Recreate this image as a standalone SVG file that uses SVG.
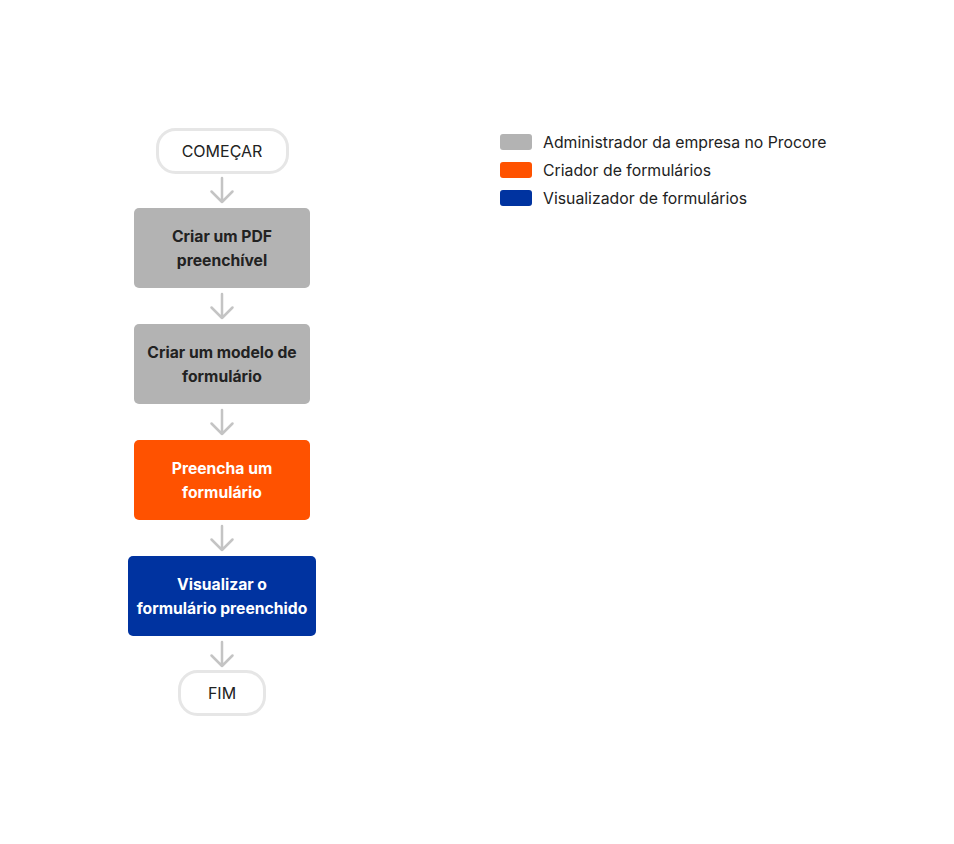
<svg xmlns="http://www.w3.org/2000/svg" width="954" height="844" viewBox="0 0 954 844">
<style>
.t{font-family:Inter,"Liberation Sans",sans-serif;}
.term{fill:#fff;stroke:#e6e6e6;stroke-width:3;}
.tt{font-size:16px;fill:#222;text-anchor:middle;}
.bt{font-size:15.7px;font-weight:700;text-anchor:middle;}
.dark{fill:#222;}
.light{fill:#fff;}
.arr{fill:none;stroke:#c4c4c4;stroke-width:2.5;stroke-linecap:round;stroke-linejoin:round;}
.lg{font-size:15.8px;fill:#222;}
</style>
<rect width="954" height="844" fill="#fff"/>
<g id="connectors">
<path class="arr" d="M222 178V202M211.5 191.5L222 202L232.5 191.5"/>
<path class="arr" d="M222 294V318M211.5 307.5L222 318L232.5 307.5"/>
<path class="arr" d="M222 410V434M211.5 423.5L222 434L232.5 423.5"/>
<path class="arr" d="M222 526V550M211.5 539.5L222 550L232.5 539.5"/>
<path class="arr" d="M222 642V666M211.5 655.5L222 666L232.5 655.5"/>
</g>
<g id="start">
<rect class="term" x="157.5" y="129.5" width="130" height="43" rx="18"/>
<text class="t tt" x="222" y="157">COMEÇAR</text>
</g>
<g id="step1">
<rect x="134" y="208" width="176" height="80" rx="5" fill="#b3b3b3"/>
<text class="t bt dark" x="222" y="242">Criar um PDF</text>
<text class="t bt dark" x="222" y="266">preenchível</text>
</g>
<g id="step2">
<rect x="134" y="324" width="176" height="80" rx="5" fill="#b3b3b3"/>
<text class="t bt dark" x="222" y="358">Criar um modelo de</text>
<text class="t bt dark" x="222" y="382">formulário</text>
</g>
<g id="step3">
<rect x="134" y="440" width="176" height="80" rx="5" fill="#ff5200"/>
<text class="t bt light" x="222" y="474">Preencha um</text>
<text class="t bt light" x="222" y="498">formulário</text>
</g>
<g id="step4">
<rect x="128" y="556" width="188" height="80" rx="5" fill="#0033a0"/>
<text class="t bt light" x="222" y="590">Visualizar o</text>
<text class="t bt light" x="222" y="614">formulário preenchido</text>
</g>
<g id="end">
<rect class="term" x="179.5" y="671.5" width="85" height="43" rx="18"/>
<text class="t tt" x="222" y="699">FIM</text>
</g>
<g id="legend">
<rect x="500" y="134" width="32" height="16" rx="3" fill="#b3b3b3"/>
<text class="t lg" x="543" y="148">Administrador da empresa no Procore</text>
<rect x="500" y="162" width="32" height="16" rx="3" fill="#ff5200"/>
<text class="t lg" x="543" y="176">Criador de formulários</text>
<rect x="500" y="190" width="32" height="16" rx="3" fill="#0033a0"/>
<text class="t lg" x="543" y="204">Visualizador de formulários</text>
</g>
</svg>
